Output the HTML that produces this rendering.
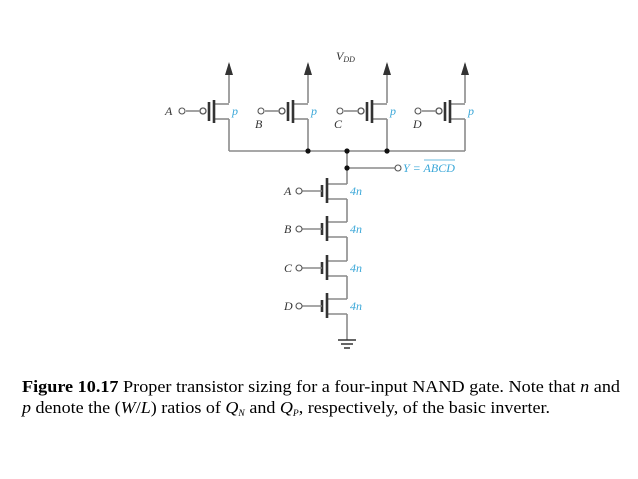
<!DOCTYPE html>
<html><head><meta charset="utf-8"><style>
html,body{margin:0;padding:0;background:#fff;}
svg{display:block;}
.w{stroke:#8a8a8a;stroke-width:1.6;fill:none;}
.g{stroke:#333;stroke-width:2.6;fill:none;}
.l{font-family:"Liberation Serif",serif;font-style:italic;font-size:12px;fill:#333;}
.b{font-family:"Liberation Serif",serif;font-style:italic;font-size:12px;fill:#3aa7d8;}
.c{font-family:"Liberation Serif",serif;font-size:17px;fill:#000;}
</style></head><body>
<svg width="638" height="479" viewBox="0 0 638 479" xmlns="http://www.w3.org/2000/svg">
<defs>
<g id="pm">
  <line class="w" x1="0" y1="-47" x2="0" y2="-8"/>
  <polygon points="0,-49 -4,-36 4,-36" fill="#333"/>
  <line class="w" x1="-15" y1="-7" x2="0" y2="-7"/>
  <line class="w" x1="-15" y1="8" x2="0" y2="8"/>
  <line class="w" x1="0" y1="8" x2="0" y2="40"/>
  <line class="g" x1="-15" y1="-11" x2="-15" y2="12"/>
  <line class="g" x1="-20" y1="-9" x2="-20" y2="10"/>
  <circle cx="-26" cy="0" r="3" fill="#fff" stroke="#555" stroke-width="1.3"/>
  <line class="w" x1="-43" y1="0" x2="-29" y2="0"/>
  <circle cx="-47" cy="0" r="3" fill="#fff" stroke="#555" stroke-width="1.1"/>
  <text class="b" x="3" y="4">p</text>
</g>
<g id="nm">
  <line class="w" x1="-20" y1="-7" x2="0" y2="-7"/>
  <line class="w" x1="-20" y1="8" x2="0" y2="8"/>
  <line class="g" x1="-20" y1="-13" x2="-20" y2="12"/>
  <line class="g" x1="-25" y1="-6" x2="-25" y2="6"/>
  <line class="w" x1="-45" y1="0" x2="-25" y2="0"/>
  <circle cx="-48" cy="0" r="3" fill="#fff" stroke="#555" stroke-width="1.1"/>
  <text class="b" x="3" y="4">4n</text>
</g>
</defs>
<text class="l" x="336" y="60">V<tspan font-size="8" dy="2">DD</tspan></text>
<use href="#pm" x="229" y="111"/>
<use href="#pm" x="308" y="111"/>
<use href="#pm" x="387" y="111"/>
<use href="#pm" x="465" y="111"/>
<text class="l" x="165" y="115">A</text>
<text class="l" x="255" y="128">B</text>
<text class="l" x="334" y="128">C</text>
<text class="l" x="413" y="128">D</text>
<line class="w" x1="229" y1="151" x2="465" y2="151"/>
<line class="w" x1="347" y1="151" x2="347" y2="184"/>
<line class="w" x1="347" y1="168" x2="395" y2="168"/>
<circle cx="398" cy="168" r="3" fill="#fff" stroke="#555" stroke-width="1.1"/>
<text class="b" x="403" y="172">Y = ABCD</text>
<line x1="424" y1="160" x2="455" y2="160" stroke="#3aa7d8" stroke-width="0.8"/>
<circle cx="308" cy="151" r="2.6" fill="#111"/>
<circle cx="387" cy="151" r="2.6" fill="#111"/>
<circle cx="347" cy="151" r="2.6" fill="#111"/>
<circle cx="347" cy="168" r="2.6" fill="#111"/>
<use href="#nm" x="347" y="191"/>
<use href="#nm" x="347" y="229"/>
<use href="#nm" x="347" y="268"/>
<use href="#nm" x="347" y="306"/>
<line class="w" x1="347" y1="199" x2="347" y2="222"/>
<line class="w" x1="347" y1="237" x2="347" y2="261"/>
<line class="w" x1="347" y1="276" x2="347" y2="299"/>
<line class="w" x1="347" y1="314" x2="347" y2="340"/>
<line x1="338" y1="340" x2="356" y2="340" stroke="#333" stroke-width="1.5"/>
<line x1="341" y1="344" x2="353" y2="344" stroke="#333" stroke-width="1.5"/>
<line x1="344" y1="348" x2="350" y2="348" stroke="#333" stroke-width="1.5"/>
<text class="l" x="284" y="195">A</text>
<text class="l" x="284" y="233">B</text>
<text class="l" x="284" y="272">C</text>
<text class="l" x="284" y="310">D</text>
<text class="c" x="22" y="392" textLength="598" lengthAdjust="spacingAndGlyphs"><tspan font-weight="bold">Figure 10.17</tspan>  Proper transistor sizing for a four-input NAND gate. Note that <tspan font-style="italic">n</tspan> and</text>
<text class="c" x="22" y="413" textLength="528" lengthAdjust="spacingAndGlyphs"><tspan font-style="italic">p</tspan> denote the (<tspan font-style="italic">W</tspan>/<tspan font-style="italic">L</tspan>) ratios of <tspan font-style="italic">Q</tspan><tspan font-size="9" dy="3" font-style="italic">N</tspan><tspan dy="-3"> and </tspan><tspan font-style="italic">Q</tspan><tspan font-size="9" dy="3" font-style="italic">P</tspan><tspan dy="-3">, respectively, of the basic inverter.</tspan></text>
</svg>
</body></html>
